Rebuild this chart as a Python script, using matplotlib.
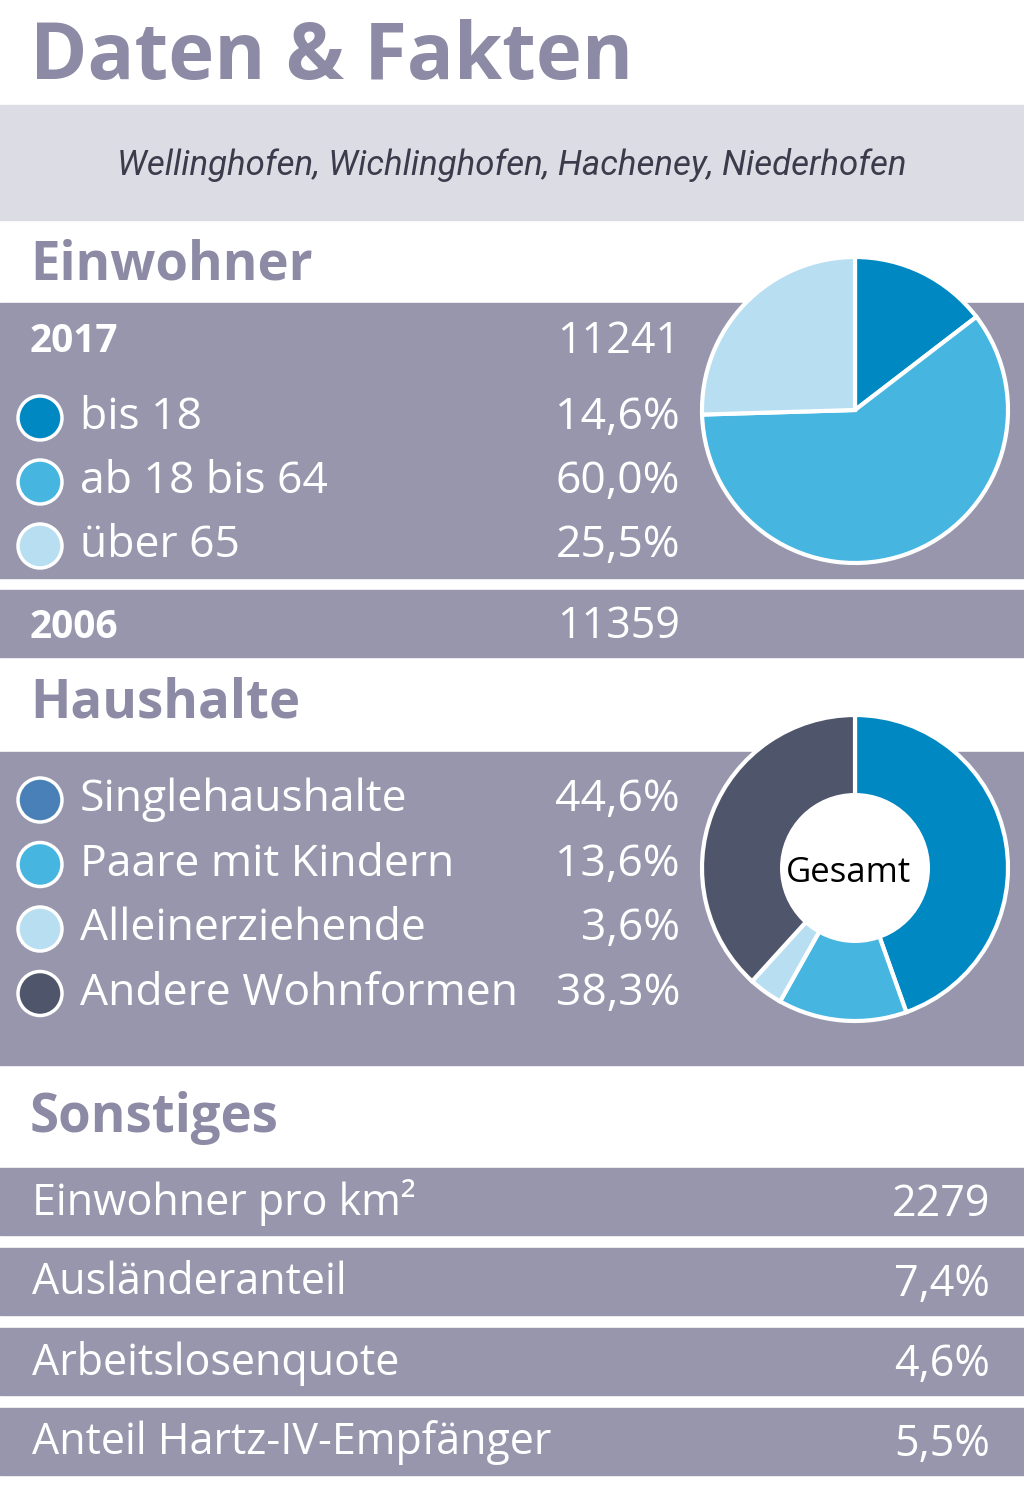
import matplotlib.pyplot as plt
from matplotlib.patches import Rectangle, Circle

title = "Daten & Fakten"
subtitle = "Wellinghofen, Wichlinghofen, Hacheney, Niederhofen"

einw_2017 = "11241"
einw_2006 = "11359"
age_labels = ["bis 18", "ab 18 bis 64", "über 65"]
age_values = [14.6, 60.0, 25.5]
age_colors = ["#0088c2", "#46b5e0", "#b8def2"]

hh_labels = ["Singlehaushalte", "Paare mit Kindern", "Alleinerziehende", "Andere Wohnformen"]
hh_values = [44.6, 13.6, 3.6, 38.3]
hh_colors = ["#0088c2", "#46b5e0", "#b8def2", "#4f566c"]
hh_marker = ["#4a80b8", "#46b5e0", "#b8def2", "#4f566c"]

misc_labels = ["Einwohner pro km²", "Ausländeranteil", "Arbeitslosenquote", "Anteil Hartz-IV-Empfänger"]
misc_values = ["2279", "7,4%", "4,6%", "5,5%"]

def pct(v):
    return f"{v:.1f}%".replace(".", ",")

BAND = "#9896ac"
HEAD = "#8c8aa4"
FONT = "Open Sans"

fig = plt.figure(figsize=(10.24, 14.87), dpi=100)
ax = fig.add_axes([0, 0, 1, 1])
ax.set_xlim(0, 1024)
ax.set_ylim(1487, 0)
ax.axis("off")

def band(y0, y1, color=BAND):
    ax.add_patch(Rectangle((0, y0), 1024, y1 - y0, color=color, zorder=1))

def txt(x, y, s, size, ha="left", color="white", weight="normal", **kw):
    ax.text(x, y, s, fontsize=size, ha=ha, va="center", color=color,
            weight=weight, family=kw.pop("family", FONT), zorder=5, **kw)

txt(30, 58, title, 56, color=HEAD, weight="bold")
band(105, 220, "#dcdce4")
txt(512, 165, subtitle, 25, ha="center", color="#3b3b4c", style="italic",
    family="Roboto")

# Einwohner
txt(30, 266, "Einwohner", 38, color=HEAD, weight="bold")
band(303, 578)
txt(30, 342, "2017", 28, weight="bold")
txt(680, 342, einw_2017, 31, ha="right")
for i, (lab, v) in enumerate(zip(age_labels, age_values)):
    y = 418 + i * 64
    ax.add_patch(Circle((40, y), 22, fc=age_colors[i], ec="white", lw=2.5, zorder=4))
    txt(80, y, lab, 32)
    txt(680, y, pct(v), 32, ha="right")
band(590, 657)
txt(30, 627, "2006", 28, weight="bold")
txt(680, 627, einw_2006, 31, ha="right")
ax.pie(age_values, colors=age_colors, center=(855, 410), radius=153,
       startangle=-90, counterclock=True, frame=True,
       wedgeprops=dict(edgecolor="white", linewidth=3, zorder=3))

# Haushalte
txt(30, 703, "Haushalte", 38, color=HEAD, weight="bold")
band(752, 1065)
for i, (lab, v) in enumerate(zip(hh_labels, hh_values)):
    y = 800 + i * 64.5
    ax.add_patch(Circle((40, y), 22, fc=hh_marker[i], ec="white", lw=2.5, zorder=4))
    txt(80, y, lab, 32)
    txt(680, y, pct(v), 32, ha="right")
ax.pie(hh_values, colors=hh_colors, center=(855, 868), radius=153,
       startangle=-90, counterclock=True, frame=True,
       wedgeprops=dict(edgecolor="white", linewidth=3, zorder=3))
ax.add_patch(Circle((855, 868), 75, fc="white", ec="none", zorder=4))
txt(848, 873, "Gesamt", 25, ha="center", color="black")

# Sonstiges
txt(30, 1118, "Sonstiges", 38, color=HEAD, weight="bold")
for i, (lab, v) in enumerate(zip(misc_labels, misc_values)):
    y0 = 1168 + i * 80
    band(y0, y0 + 67)
    txt(32, y0 + 35, lab, 31)
    txt(990, y0 + 37, v, 31, ha="right")

ax.set_xlim(0, 1024)
ax.set_ylim(1487, 0)
ax.set_aspect("auto")
fig.savefig("out.png", dpi=100)
